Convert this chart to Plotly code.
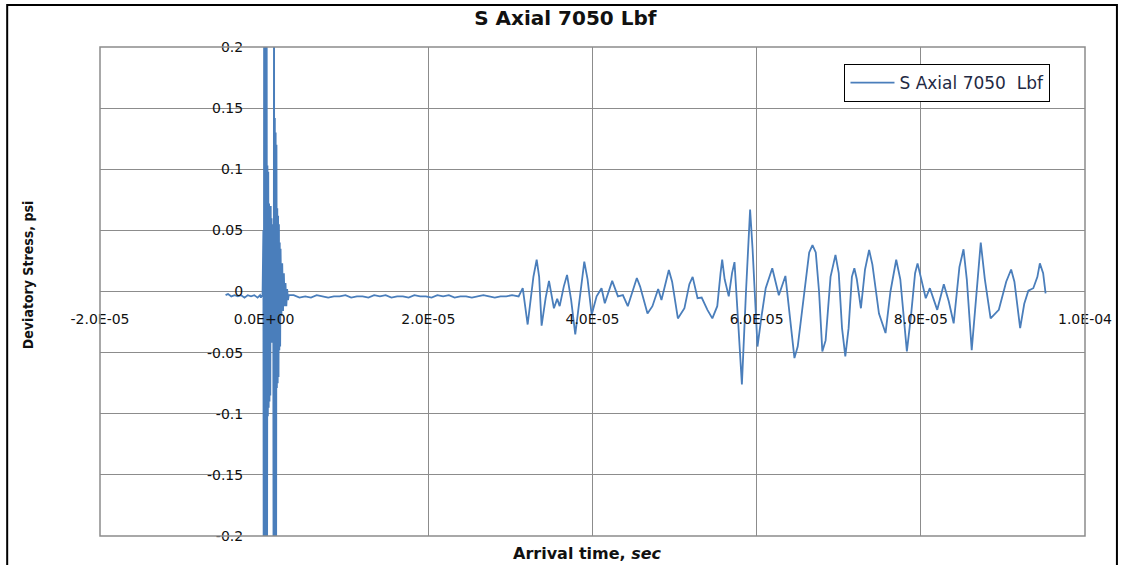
import plotly.graph_objects as go

# ---------------- data (time in microseconds, stress in psi) ----------------
baseline_pre_t = [-4.7, -4.4, -4.0, -3.6, -3.2, -2.8, -2.4, -2.0, -1.6, -1.2, -0.8]
baseline_pre_v = [-0.003, -0.002, -0.004, -0.003, -0.004, -0.003, -0.005, -0.003, -0.004, -0.003, -0.005]

burst_t = [-0.6, -0.5, -0.4, -0.3, -0.2, -0.1, -0.05, 0.0, 0.05, 0.1, 0.15, 0.2, 0.25, 0.3, 0.35,
           0.4, 0.45, 0.5, 0.55, 0.6, 0.65, 0.7, 0.75, 0.8, 0.85, 0.9, 0.95, 1.0, 1.05, 1.1,
           1.15, 1.2, 1.25, 1.3, 1.35, 1.4, 1.45, 1.5, 1.55, 1.6, 1.65, 1.7, 1.75, 1.8, 1.85,
           1.9, 1.95, 2.0, 2.1, 2.2, 2.3, 2.4, 2.5, 2.6, 2.7, 2.8, 2.9, 3.0]
burst_v = [-0.004, -0.003, -0.005, -0.003, -0.004, 0.05, -0.32, 0.34, -0.30, 0.31, -0.33, 0.29, -0.31, 0.33, -0.28,
           0.103, -0.102, 0.098, -0.095, 0.072, -0.09, 0.065, -0.085, 0.07, -0.042, 0.06, -0.04, 0.055, -0.042, 0.05,
           -0.30, 0.31, -0.29, 0.142, -0.31, 0.13, -0.30, 0.12, -0.079, 0.068, -0.075, 0.062, -0.07, 0.055, -0.048,
           0.040, -0.045, 0.035, -0.020, 0.023, -0.016, 0.015, -0.012, 0.007, -0.012, 0.002, -0.007, -0.003]

baseline_post_t = [3.6, 4.3, 5.0, 5.7, 6.4, 7.1, 7.8, 8.5, 9.2, 9.9, 10.6, 11.3, 12.0, 12.7, 13.4, 14.1,
                   14.8, 15.5, 16.2, 16.9, 17.6, 18.3, 19.0, 19.7, 20.4, 21.1, 21.8, 22.5, 23.2, 23.9,
                   24.6, 25.3, 26.0, 26.7, 27.4, 28.1, 28.8, 29.5, 30.2]
baseline_post_v = [-0.003, -0.005, -0.004, -0.005, -0.003, -0.004, -0.005, -0.004, -0.004, -0.003, -0.005, -0.004,
                   -0.004, -0.005, -0.003, -0.004, -0.003, -0.005, -0.004, -0.004, -0.005, -0.003, -0.004, -0.004,
                   -0.005, -0.003, -0.004, -0.003, -0.005, -0.004, -0.004, -0.005, -0.004, -0.003, -0.004, -0.005,
                   -0.004, -0.004, -0.003]

wave_t = [31.0, 31.5, 32.1, 32.8, 33.2, 33.5, 33.8, 34.3, 34.7, 35.3, 35.7, 36.0, 36.5, 36.9, 37.4, 37.9,
          38.5, 39.0, 39.4, 39.9, 40.5, 41.1, 41.5, 42.4, 43.1, 43.7, 44.3, 45.0, 45.4, 45.8, 46.7, 47.3,
          48.0, 48.4, 49.0, 49.3, 49.7, 50.4, 51.2, 51.8, 52.2, 52.8, 53.3, 54.0, 54.6, 55.2, 55.6, 55.8,
          56.1, 56.6, 57.0, 57.3, 57.7, 58.2, 58.7, 59.0, 59.2, 59.5, 60.1, 60.6, 61.1, 61.9, 62.7, 63.5,
          64.0, 64.6, 65.0, 65.8, 66.4, 66.8, 67.2, 67.6, 68.0, 68.4, 69.0, 69.6, 70.0, 70.4, 70.8, 71.2,
          71.6, 71.9, 72.2, 72.7, 73.2, 73.7, 74.1, 74.9, 75.7, 76.3, 77.0, 77.5, 78.3, 78.8, 79.3, 79.6,
          80.0, 80.6, 81.1, 82.0, 82.8, 83.4, 84.0, 84.7, 85.2, 85.6, 86.2, 86.7, 87.3, 87.8, 88.5, 89.5,
          90.4, 91.0, 91.4, 92.1, 92.6, 93.1, 93.7, 94.2, 94.5, 94.9, 95.2]
wave_v = [-0.004, 0.0027, -0.027, 0.012, 0.026, 0.012, -0.028, -0.005, 0.0087, -0.0137, -0.006, -0.012,
          0.004, 0.0136, -0.007, -0.035, -0.005, 0.0245, 0.010, -0.019, -0.004, 0.0027, -0.0096, 0.0087,
          -0.004, -0.003, -0.012, 0.004, 0.011, 0.004, -0.018, -0.012, 0.002, -0.007, 0.010, 0.0176, 0.008,
          -0.022, -0.0137, 0.006, 0.012, -0.0055, -0.005, -0.015, -0.022, -0.012, 0.015, 0.026, 0.010,
          -0.004, 0.015, 0.024, -0.02, -0.076, 0.0, 0.045, 0.067, 0.035, -0.045, -0.02, 0.0027, 0.019,
          -0.003, 0.0127, -0.02, -0.0545, -0.045, 0.0, 0.032, 0.038, 0.032, 0.0, -0.049, -0.04, 0.012,
          0.030, 0.015, -0.03, -0.053, -0.03, 0.012, 0.019, 0.010, -0.0137, 0.018, 0.034, 0.022, -0.018,
          -0.034, 0.0, 0.026, 0.010, -0.049, -0.02, 0.015, 0.023, 0.012, -0.0055, 0.0027, -0.015, 0.006,
          -0.008, -0.026, 0.020, 0.0345, 0.010, -0.048, -0.010, 0.040, 0.010, -0.022, -0.015, 0.008, 0.018,
          0.008, -0.030, -0.010, 0.0007, 0.0027, 0.012, 0.023, 0.015, -0.0015]

x_tick_vals = [-2e-5, 0.0, 2e-5, 4e-5, 6e-5, 8e-5, 1e-4]
x_tick_text = ["-2.0E-05", "0.0E+00", "2.0E-05", "4.0E-05", "6.0E-05", "8.0E-05", "1.0E-04"]
y_tick_vals = [0.2, 0.15, 0.1, 0.05, 0.0, -0.05, -0.1, -0.15, -0.2]
y_tick_text = ["0.2", "0.15", "0.1", "0.05", "0", "-0.05", "-0.1", "-0.15", "-0.2"]

series_name = "S Axial 7050\u00a0 Lbf"
title_text = "S Axial 7050 Lbf"

# ---------------- assemble ----------------
time_us = baseline_pre_t + burst_t + baseline_post_t + wave_t
stress = baseline_pre_v + burst_v + baseline_post_v + wave_v
time_s = [t * 1e-6 for t in time_us]

LINE = "#4A7EBB"
GRID = "#8C8C8C"
TICKFONT = dict(family="DejaVu Sans, Verdana, sans-serif", size=14, color="#111111")

fig = go.Figure()
fig.add_trace(go.Scatter(x=time_s, y=stress, mode="lines", name=series_name,
                         line=dict(color=LINE, width=1.8), showlegend=True))

fig.update_layout(
    width=1124, height=565,
    margin=dict(l=100, r=37, t=47, b=29),
    paper_bgcolor="white", plot_bgcolor="white",
    title=dict(text="<b>" + title_text + "</b>", x=0.503, xref="container", xanchor="center",
               y=1 - 18 / 565, yref="container", yanchor="middle",
               font=dict(family="DejaVu Sans, sans-serif", size=20, color="#111111")),
    xaxis=dict(range=[-2e-5, 1e-4], tickvals=x_tick_vals, ticktext=x_tick_text,
               showgrid=True, gridcolor=GRID, gridwidth=1, zeroline=False, showline=False,
               anchor="free", position=0.5, ticks="", ticklabelstandoff=17, tickfont=TICKFONT),
    yaxis=dict(range=[-0.2, 0.2], tickvals=y_tick_vals, ticktext=y_tick_text,
               showgrid=True, gridcolor=GRID, gridwidth=1, zeroline=False, showline=False,
               anchor="free", position=1 / 6, ticks="", ticklabelstandoff=21, tickfont=TICKFONT),
    legend=dict(x=(846 - 100) / 987, y=(536 - 64) / 489, xanchor="left", yanchor="top",
                bgcolor="white", bordercolor="#000000", borderwidth=1,
                font=dict(family="DejaVu Sans, sans-serif", size=17, color="#1F2A44"),
                itemwidth=44, entrywidth=210, entrywidthmode="pixels"),
    showlegend=True,
)

# plot-area frame and outer chart border
fig.add_shape(type="rect", xref="paper", yref="paper", x0=0, x1=1, y0=0, y1=1,
              line=dict(color=GRID, width=1.5), layer="above")
fig.add_shape(type="rect", xref="paper", yref="paper",
              x0=(7 - 100) / 987, x1=(1119 - 100) / 987, y0=(536 - 580) / 489, y1=(536 - 5) / 489,
              line=dict(color="#000000", width=2))

fig.add_annotation(text="<b>Arrival time, <i>sec</i></b>", xref="paper", yref="paper",
                   x=(588 - 100) / 987, y=(536 - 553) / 489, showarrow=False,
                   xanchor="center", yanchor="middle",
                   font=dict(family="DejaVu Sans, sans-serif", size=16, color="#111111"))
fig.add_annotation(text="<b>Deviatory Stress, psi</b>", xref="paper", yref="paper",
                   x=(28 - 100) / 987, y=(536 - 275) / 489, showarrow=False, textangle=-90,
                   xanchor="center", yanchor="middle",
                   font=dict(family="Liberation Sans Narrow, DejaVu Sans Condensed, sans-serif",
                             size=14, color="#111111"))

fig.write_html("out.html")
